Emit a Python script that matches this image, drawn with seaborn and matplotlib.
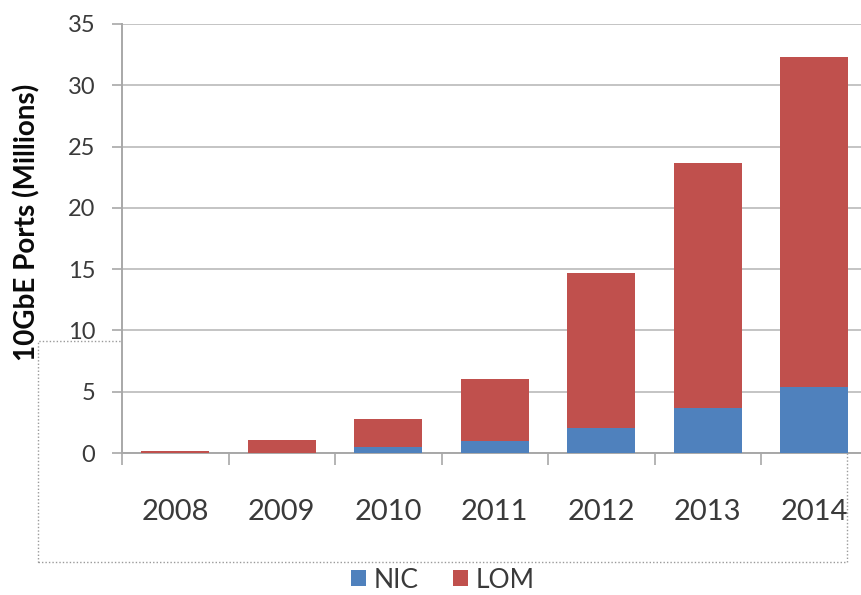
import matplotlib
matplotlib.use("Agg")
import matplotlib.pyplot as plt
import seaborn as sns
import pandas as pd
from matplotlib.patches import Rectangle, Patch

# Shipments of 10GbE ports, millions
years = ["2008", "2009", "2010", "2011", "2012", "2013", "2014"]
nic = [0.0, 0.0, 0.5, 0.95, 2.0, 3.7, 5.35]
lom = [0.2, 1.05, 2.3, 5.05, 12.7, 20.0, 26.95]
series_names = ["NIC", "LOM"]
y_ticks = [0, 5, 10, 15, 20, 25, 30, 35]

NIC_COLOR = "#4F81BD"
LOM_COLOR = "#C0504D"
GRID = "#c4c4c4"
AXIS = "#a8a8a8"
TEXT = "#3a3a3a"

sns.set_theme(style="white")
plt.rcParams["font.family"] = ["Lato", "DejaVu Sans"]

df = pd.DataFrame({"year": years, "NIC": nic, "LOM": lom})
df["total"] = df["NIC"] + df["LOM"]

fig = plt.figure(figsize=(8.61, 5.95), dpi=100)

# dotted selection frame behind the plot area
frame = Rectangle((38 / 861, 1 - 562 / 595), (847 - 38) / 861, (562 - 341) / 595,
                  transform=fig.transFigure, fill=False, linestyle=(0, (1, 1.5)),
                  edgecolor="#9a9a9a", linewidth=1.0, zorder=-5)
fig.add_artist(frame)

ax = fig.add_axes([122 / 861, 1 - 453 / 595, (867.5 - 122) / 861, (453 - 24) / 595])
ax.set_facecolor("white")

# stacked bars: full height in LOM colour, NIC segment drawn over the base
sns.barplot(data=df, x="year", y="total", color=LOM_COLOR, saturation=1,
            width=0.64, linewidth=0, ax=ax, zorder=3)
sns.barplot(data=df, x="year", y="NIC", color=NIC_COLOR, saturation=1,
            width=0.64, linewidth=0, ax=ax, zorder=4)

ax.set_xlim(-0.5, len(years) - 0.5)
ax.set_ylim(0, 35)
ax.set_yticks(y_ticks)
ax.set_axisbelow(True)
ax.yaxis.grid(True, color=GRID, linewidth=1.4)
ax.xaxis.grid(False)

for side in ["top", "right"]:
    ax.spines[side].set_visible(False)
ax.spines["left"].set_color(AXIS)
ax.spines["left"].set_linewidth(1.4)
ax.spines["bottom"].set_color(AXIS)
ax.spines["bottom"].set_linewidth(1.4)

ax.set_xlabel("")
ax.set_ylabel("")

# category boundary ticks on x, labels centred under bars
ax.set_xticks([i - 0.5 for i in range(len(years) + 1)], minor=True)
ax.tick_params(axis="x", which="minor", bottom=True, length=8.5, width=1.2,
               color=AXIS, direction="out")
ax.tick_params(axis="x", which="major", bottom=True, length=0, pad=33,
               labelsize=21, labelcolor=TEXT)
ax.tick_params(axis="y", which="major", left=True, length=7.2, width=1.2,
               color=AXIS, direction="out", pad=12, labelsize=17, labelcolor=TEXT)

fig.text(27 / 861, 1 - 222 / 595, "10GbE Ports (Millions)", rotation=90,
         ha="center", va="center", fontsize=20, fontweight="bold", color="#0a0a0a")

handles = [Patch(facecolor=NIC_COLOR, edgecolor="none"),
           Patch(facecolor=LOM_COLOR, edgecolor="none")]
fig.legend(handles, series_names, loc="center", bbox_to_anchor=(443 / 861, 1 - 580 / 595),
           ncol=2, frameon=False, fontsize=19, handlelength=0.55, handleheight=0.55,
           handletextpad=0.3, columnspacing=1.3, labelcolor=TEXT)

fig.savefig("out.png", dpi=100)
